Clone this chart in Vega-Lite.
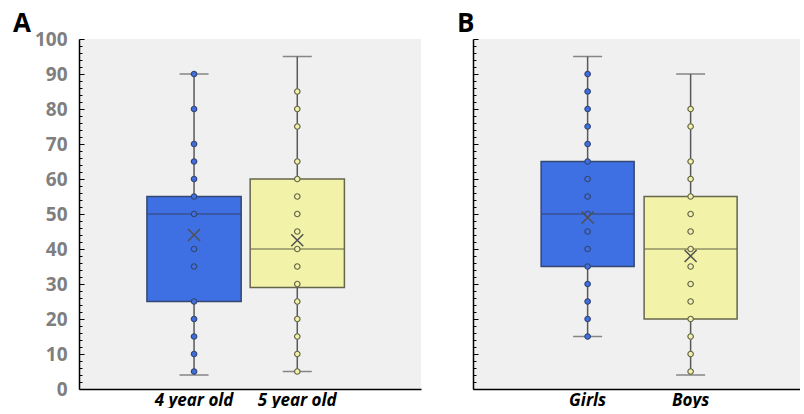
{
  "$schema": "https://vega.github.io/schema/vega-lite/v6.json",
  "padding": {"left": 0, "top": 10, "right": 0, "bottom": 0},
  "background": "white",
  "config": {
    "view": {"fill": "#f0f0f0", "stroke": null},
    "concat": {"spacing": 32}
  },
  "datasets": {
    "stats": [
      {"panel": "A", "group": "4 year old", "min": 4, "q1": 25, "median": 50, "q3": 55, "max": 90, "mean": 44},
      {"panel": "A", "group": "5 year old", "min": 5, "q1": 29, "median": 40, "q3": 60, "max": 95, "mean": 42.5},
      {"panel": "B", "group": "Girls", "min": 15, "q1": 35, "median": 50, "q3": 65, "max": 95, "mean": 49},
      {"panel": "B", "group": "Boys", "min": 4, "q1": 20, "median": 40, "q3": 55, "max": 90, "mean": 38}
    ],
    "points": [
      {"panel": "A", "group": "4 year old", "value": 90},
      {"panel": "A", "group": "4 year old", "value": 80},
      {"panel": "A", "group": "4 year old", "value": 70},
      {"panel": "A", "group": "4 year old", "value": 65},
      {"panel": "A", "group": "4 year old", "value": 60},
      {"panel": "A", "group": "4 year old", "value": 55},
      {"panel": "A", "group": "4 year old", "value": 50},
      {"panel": "A", "group": "4 year old", "value": 40},
      {"panel": "A", "group": "4 year old", "value": 35},
      {"panel": "A", "group": "4 year old", "value": 25},
      {"panel": "A", "group": "4 year old", "value": 20},
      {"panel": "A", "group": "4 year old", "value": 15},
      {"panel": "A", "group": "4 year old", "value": 10},
      {"panel": "A", "group": "4 year old", "value": 5},
      {"panel": "A", "group": "5 year old", "value": 85},
      {"panel": "A", "group": "5 year old", "value": 80},
      {"panel": "A", "group": "5 year old", "value": 75},
      {"panel": "A", "group": "5 year old", "value": 65},
      {"panel": "A", "group": "5 year old", "value": 60},
      {"panel": "A", "group": "5 year old", "value": 55},
      {"panel": "A", "group": "5 year old", "value": 50},
      {"panel": "A", "group": "5 year old", "value": 45},
      {"panel": "A", "group": "5 year old", "value": 40},
      {"panel": "A", "group": "5 year old", "value": 35},
      {"panel": "A", "group": "5 year old", "value": 30},
      {"panel": "A", "group": "5 year old", "value": 25},
      {"panel": "A", "group": "5 year old", "value": 20},
      {"panel": "A", "group": "5 year old", "value": 15},
      {"panel": "A", "group": "5 year old", "value": 10},
      {"panel": "A", "group": "5 year old", "value": 5},
      {"panel": "B", "group": "Girls", "value": 90},
      {"panel": "B", "group": "Girls", "value": 85},
      {"panel": "B", "group": "Girls", "value": 80},
      {"panel": "B", "group": "Girls", "value": 75},
      {"panel": "B", "group": "Girls", "value": 70},
      {"panel": "B", "group": "Girls", "value": 65},
      {"panel": "B", "group": "Girls", "value": 60},
      {"panel": "B", "group": "Girls", "value": 55},
      {"panel": "B", "group": "Girls", "value": 50},
      {"panel": "B", "group": "Girls", "value": 45},
      {"panel": "B", "group": "Girls", "value": 40},
      {"panel": "B", "group": "Girls", "value": 35},
      {"panel": "B", "group": "Girls", "value": 30},
      {"panel": "B", "group": "Girls", "value": 25},
      {"panel": "B", "group": "Girls", "value": 20},
      {"panel": "B", "group": "Girls", "value": 15},
      {"panel": "B", "group": "Boys", "value": 80},
      {"panel": "B", "group": "Boys", "value": 75},
      {"panel": "B", "group": "Boys", "value": 65},
      {"panel": "B", "group": "Boys", "value": 60},
      {"panel": "B", "group": "Boys", "value": 55},
      {"panel": "B", "group": "Boys", "value": 50},
      {"panel": "B", "group": "Boys", "value": 45},
      {"panel": "B", "group": "Boys", "value": 40},
      {"panel": "B", "group": "Boys", "value": 35},
      {"panel": "B", "group": "Boys", "value": 30},
      {"panel": "B", "group": "Boys", "value": 25},
      {"panel": "B", "group": "Boys", "value": 20},
      {"panel": "B", "group": "Boys", "value": 15},
      {"panel": "B", "group": "Boys", "value": 10},
      {"panel": "B", "group": "Boys", "value": 5}
    ]
  },
  "hconcat": [
    {
      "width": 342,
      "height": 350,
      "title": {"text": "A", "anchor": "start", "frame": "group", "font": "Open Sans", "fontSize": 26, "fontWeight": "bold", "color": "black", "dx": -66, "dy": 8, "offset": 1},
      "encoding": {
        "x": {"field": "group", "type": "nominal", "sort": ["4 year old", "5 year old"],
          "scale": {"paddingInner": 0.087, "paddingOuter": 0.7, "align": 0.47},
          "axis": {"title": null, "ticks": false, "labelAngle": 0, "domainColor": "black", "domainWidth": 1.5, "labelFont": "Open Sans", "labelFontSize": 17, "labelFontWeight": "bold", "labelFontStyle": "italic", "labelColor": "black", "labelPadding": 3}}
      },
      "layer": [
        {
          "data": {"name": "stats"},
          "transform": [{"filter": "datum.panel === 'A'"}],
          "mark": {"type": "rule", "color": "#595959", "strokeWidth": 1.5},
          "encoding": {
            "y": {"field": "min", "type": "quantitative", "scale": {"domain": [0, 100], "nice": false},
              "axis": {"title": null, "values": [0,2,4,6,8,10,12,14,16,18,20,22,24,26,28,30,32,34,36,38,40,42,44,46,48,50,52,54,56,58,60,62,64,66,68,70,72,74,76,78,80,82,84,86,88,90,92,94,96,98,100],
                "tickCount": 100,
                "labelExpr": "datum.value % 10 === 0 ? datum.label : ''",
                "labelOverlap": false, "labelBound": false,
                "tickSize": {"condition": {"test": "datum.value % 10 === 0", "value": -5}, "value": -3},
                "tickColor": "black", "tickWidth": 1, "domainColor": "black", "domainWidth": 1.5, "grid": false,
                "labelFont": "Open Sans", "labelFontSize": 19, "labelFontWeight": "bold", "labelColor": "#7f7f7f", "labelPadding": 17,
                "minExtent": 79, "maxExtent": 79}},
            "y2": {"field": "max"}
          }
        },
        {
          "data": {"name": "stats"},
          "transform": [{"filter": "datum.panel === 'A'"}],
          "mark": {"type": "tick", "color": "#595959", "size": 29, "thickness": 1.5},
          "encoding": {"y": {"field": "min", "type": "quantitative"}}
        },
        {
          "data": {"name": "stats"},
          "transform": [{"filter": "datum.panel === 'A'"}],
          "mark": {"type": "tick", "color": "#595959", "size": 29, "thickness": 1.5},
          "encoding": {"y": {"field": "max", "type": "quantitative"}}
        },
        {
          "data": {"name": "stats"},
          "transform": [{"filter": "datum.panel === 'A'"}],
          "mark": {"type": "rect", "strokeWidth": 1.5},
          "encoding": {
            "y": {"field": "q1", "type": "quantitative"},
            "y2": {"field": "q3"},
            "fill": {"field": "group", "type": "nominal", "legend": null, "scale": {"domain": ["4 year old", "5 year old", "Girls", "Boys"], "range": ["#3e6fe3", "#f2f2a8", "#3e6fe3", "#f2f2a8"]}},
            "stroke": {"field": "group", "type": "nominal", "legend": null, "scale": {"domain": ["4 year old", "5 year old", "Girls", "Boys"], "range": ["#36476f", "#66664c", "#36476f", "#66664c"]}}
          }
        },
        {
          "data": {"name": "stats"},
          "transform": [{"filter": "datum.panel === 'A'"}],
          "mark": {"type": "tick", "size": 94, "thickness": 1.5},
          "encoding": {
            "y": {"field": "median", "type": "quantitative"},
            "color": {"field": "group", "type": "nominal", "legend": null, "scale": {"domain": ["4 year old", "5 year old", "Girls", "Boys"], "range": ["#36476f", "#66664c", "#36476f", "#66664c"]}}
          }
        },
        {
          "data": {"name": "points"},
          "transform": [{"filter": "datum.panel === 'A'"}],
          "mark": {"type": "point", "filled": false, "size": 30, "strokeWidth": 1.2, "opacity": 1},
          "encoding": {
            "y": {"field": "value", "type": "quantitative"},
            "fill": {"field": "group", "type": "nominal", "legend": null, "scale": {"domain": ["4 year old", "5 year old", "Girls", "Boys"], "range": ["#5268c0", "#f2f2a8", "#5268c0", "#f2f2a8"]}},
            "stroke": {"field": "group", "type": "nominal", "legend": null, "scale": {"domain": ["4 year old", "5 year old", "Girls", "Boys"], "range": ["#3f4f8f", "#77774f", "#3f4f8f", "#77774f"]}}
          }
        },
        {
          "data": {"name": "stats"},
          "transform": [{"filter": "datum.panel === 'A'"}],
          "mark": {"type": "point", "shape": "M-1,-1L1,1M-1,1L1,-1", "filled": false, "size": 144, "strokeWidth": 1.5, "color": "#505050", "opacity": 1},
          "encoding": {"y": {"field": "mean", "type": "quantitative"}}
        }
      ]
    },
    {
      "width": 327,
      "height": 350,
      "title": {"text": "B", "anchor": "start", "frame": "group", "font": "Open Sans", "fontSize": 26, "fontWeight": "bold", "color": "black", "dx": -16, "dy": -1, "offset": 1},
      "encoding": {
        "x": {"field": "group", "type": "nominal", "sort": ["Girls", "Boys"],
          "scale": {"paddingInner": 0.097, "paddingOuter": 0.636, "align": 0.52},
          "axis": {"title": null, "ticks": false, "labelAngle": 0, "domainColor": "black", "domainWidth": 1.5, "labelFont": "Open Sans", "labelFontSize": 17, "labelFontWeight": "bold", "labelFontStyle": "italic", "labelColor": "black", "labelPadding": 3}}
      },
      "layer": [
        {
          "data": {"name": "stats"},
          "transform": [{"filter": "datum.panel === 'B'"}],
          "mark": {"type": "rule", "color": "#595959", "strokeWidth": 1.5},
          "encoding": {
            "y": {"field": "min", "type": "quantitative", "scale": {"domain": [0, 100], "nice": false},
              "axis": {"title": null, "values": [0,2,4,6,8,10,12,14,16,18,20,22,24,26,28,30,32,34,36,38,40,42,44,46,48,50,52,54,56,58,60,62,64,66,68,70,72,74,76,78,80,82,84,86,88,90,92,94,96,98,100],
                "tickCount": 100,
                "labels": false,
                "tickSize": {"condition": {"test": "datum.value % 10 === 0", "value": -5}, "value": -3},
                "tickColor": "black", "tickWidth": 1, "domainColor": "black", "domainWidth": 1.5, "grid": false,
                "minExtent": 20, "maxExtent": 20}},
            "y2": {"field": "max"}
          }
        },
        {
          "data": {"name": "stats"},
          "transform": [{"filter": "datum.panel === 'B'"}],
          "mark": {"type": "tick", "color": "#595959", "size": 29, "thickness": 1.5},
          "encoding": {"y": {"field": "min", "type": "quantitative"}}
        },
        {
          "data": {"name": "stats"},
          "transform": [{"filter": "datum.panel === 'B'"}],
          "mark": {"type": "tick", "color": "#595959", "size": 29, "thickness": 1.5},
          "encoding": {"y": {"field": "max", "type": "quantitative"}}
        },
        {
          "data": {"name": "stats"},
          "transform": [{"filter": "datum.panel === 'B'"}],
          "mark": {"type": "rect", "strokeWidth": 1.5},
          "encoding": {
            "y": {"field": "q1", "type": "quantitative"},
            "y2": {"field": "q3"},
            "fill": {"field": "group", "type": "nominal", "legend": null, "scale": {"domain": ["4 year old", "5 year old", "Girls", "Boys"], "range": ["#3e6fe3", "#f2f2a8", "#3e6fe3", "#f2f2a8"]}},
            "stroke": {"field": "group", "type": "nominal", "legend": null, "scale": {"domain": ["4 year old", "5 year old", "Girls", "Boys"], "range": ["#36476f", "#66664c", "#36476f", "#66664c"]}}
          }
        },
        {
          "data": {"name": "stats"},
          "transform": [{"filter": "datum.panel === 'B'"}],
          "mark": {"type": "tick", "size": 93, "thickness": 1.5},
          "encoding": {
            "y": {"field": "median", "type": "quantitative"},
            "color": {"field": "group", "type": "nominal", "legend": null, "scale": {"domain": ["4 year old", "5 year old", "Girls", "Boys"], "range": ["#36476f", "#66664c", "#36476f", "#66664c"]}}
          }
        },
        {
          "data": {"name": "points"},
          "transform": [{"filter": "datum.panel === 'B'"}],
          "mark": {"type": "point", "filled": false, "size": 30, "strokeWidth": 1.2, "opacity": 1},
          "encoding": {
            "y": {"field": "value", "type": "quantitative"},
            "fill": {"field": "group", "type": "nominal", "legend": null, "scale": {"domain": ["4 year old", "5 year old", "Girls", "Boys"], "range": ["#5268c0", "#f2f2a8", "#5268c0", "#f2f2a8"]}},
            "stroke": {"field": "group", "type": "nominal", "legend": null, "scale": {"domain": ["4 year old", "5 year old", "Girls", "Boys"], "range": ["#3f4f8f", "#77774f", "#3f4f8f", "#77774f"]}}
          }
        },
        {
          "data": {"name": "stats"},
          "transform": [{"filter": "datum.panel === 'B'"}],
          "mark": {"type": "point", "shape": "M-1,-1L1,1M-1,1L1,-1", "filled": false, "size": 144, "strokeWidth": 1.5, "color": "#505050", "opacity": 1},
          "encoding": {"y": {"field": "mean", "type": "quantitative"}}
        }
      ]
    }
  ]
}
